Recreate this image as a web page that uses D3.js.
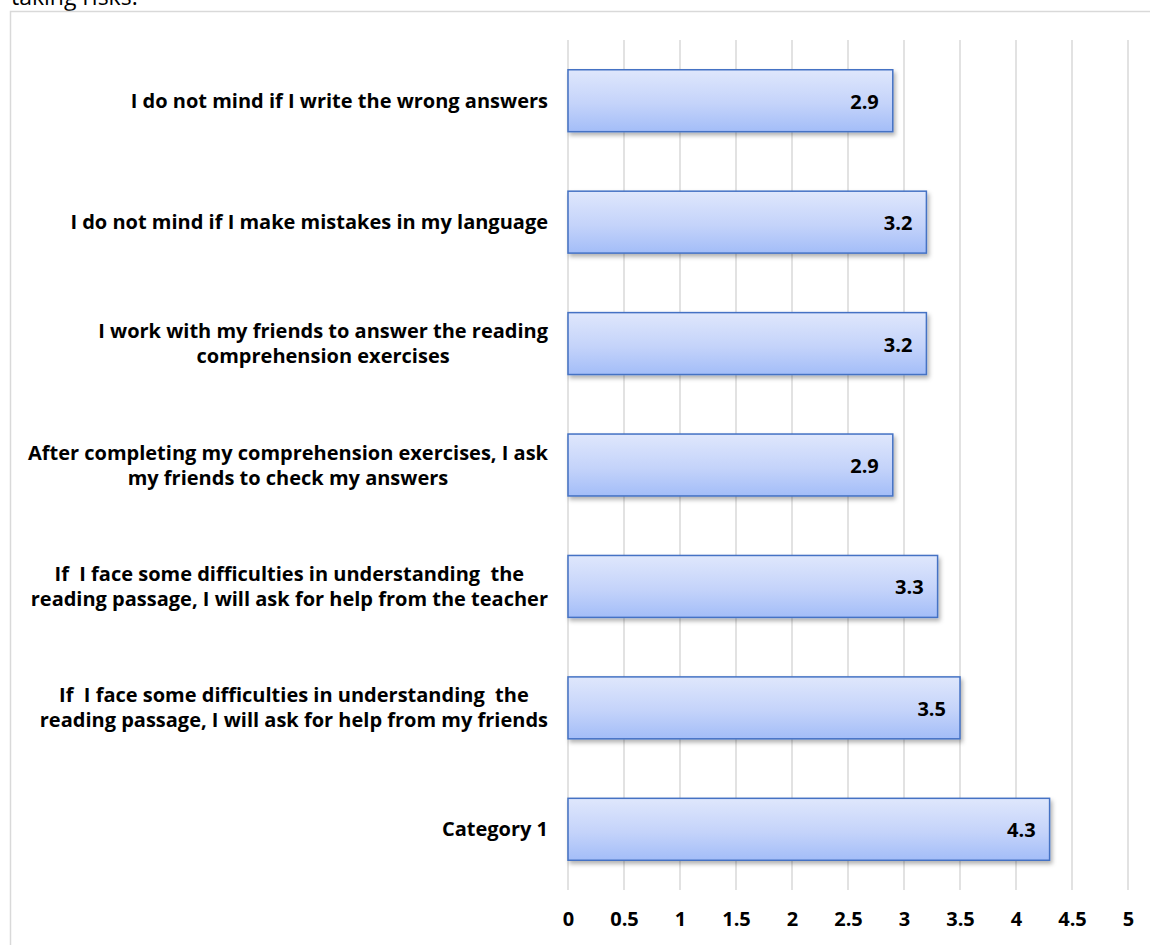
<!DOCTYPE html>
<html>
<head>
<meta charset="utf-8">
<script src="https://cdn.jsdelivr.net/npm/d3@7"></script>
<style>
  body { margin: 0; background: #fff; }
  svg { display: block; }
</style>
</head>
<body>
<div id="chart"></div>
<script>
// data, top to bottom as in the picture
var categories = [
  "I do not mind if I write the wrong answers",
  "I do not mind if I make mistakes in my language",
  "I work with my friends to answer the reading|comprehension exercises",
  "After completing my comprehension exercises, I ask|my friends to check my answers",
  "If  I face some difficulties in understanding  the|reading passage, I will ask for help from the teacher",
  "If  I face some difficulties in understanding  the|reading passage, I will ask for help from my friends",
  "Category 1"
];
var values = [2.9, 3.2, 3.2, 2.9, 3.3, 3.5, 4.3];
var xTicks = [0, 0.5, 1, 1.5, 2, 2.5, 3, 3.5, 4, 4.5, 5];
var titleText = "taking risks.";

var W = 1150, H = 945;
var font = "'Open Sans', 'Liberation Sans', sans-serif";

var svg = d3.select("#chart").append("svg")
  .attr("width", W)
  .attr("height", H);

var defs = svg.append("defs");
var grad = defs.append("linearGradient")
  .attr("id", "barGrad")
  .attr("x1", 0).attr("y1", 0).attr("x2", 0).attr("y2", 1);
grad.append("stop").attr("offset", "0%").attr("stop-color", "#dfe7fc");
grad.append("stop").attr("offset", "55%").attr("stop-color", "#c4d3fa");
grad.append("stop").attr("offset", "100%").attr("stop-color", "#a3bdf8");

var shadow = defs.append("filter").attr("id", "shadow")
  .attr("x", "-5%").attr("y", "-20%").attr("width", "115%").attr("height", "150%");
shadow.append("feDropShadow")
  .attr("dx", 2).attr("dy", 3).attr("stdDeviation", 2)
  .attr("flood-color", "#000").attr("flood-opacity", 0.3);

// cut off title at the very top
svg.append("text")
  .attr("x", 11)
  .attr("y", 5)
  .attr("font-family", font)
  .attr("font-size", "23px")
  .attr("fill", "#000")
  .text(titleText);

// chart frame
svg.append("rect")
  .attr("x", 10.5).attr("y", 11.5)
  .attr("width", W).attr("height", H)
  .attr("fill", "none")
  .attr("stroke", "#d9d9d9")
  .attr("stroke-width", 1.5);

var plotTop = 40, plotBottom = 890;
var x = d3.scaleLinear().domain([0, 5]).range([568, 1128]);
var y = d3.scaleBand().domain(d3.range(categories.length))
  .range([plotTop, plotBottom]).paddingInner(0.49).paddingOuter(0.245);

// gridlines
svg.append("g").selectAll("line")
  .data(xTicks)
  .enter().append("line")
  .attr("x1", function(d) { return x(d); })
  .attr("x2", function(d) { return x(d); })
  .attr("y1", plotTop)
  .attr("y2", plotBottom)
  .attr("stroke", "#d9d9d9")
  .attr("stroke-width", 1.5);

// x axis labels
var xAxis = d3.axisBottom(x).tickValues(xTicks).tickSize(0).tickPadding(0)
  .tickFormat(function(d) { return d; });
var gx = svg.append("g")
  .attr("transform", "translate(0," + 912 + ")")
  .call(xAxis);
gx.select(".domain").remove();
gx.selectAll("text")
  .attr("font-family", font)
  .attr("font-size", "20px")
  .attr("font-weight", "bold")
  .attr("fill", "#000");

// bars
svg.append("g").selectAll("rect")
  .data(values)
  .enter().append("rect")
  .attr("x", x(0))
  .attr("y", function(d, i) { return y(i); })
  .attr("width", function(d) { return x(d) - x(0); })
  .attr("height", y.bandwidth())
  .attr("fill", "url(#barGrad)")
  .attr("stroke", "#4472c4")
  .attr("stroke-width", 1.5)
  .attr("filter", "url(#shadow)");

// value labels
svg.append("g").selectAll("text")
  .data(values)
  .enter().append("text")
  .attr("x", function(d) { return x(d) - 14; })
  .attr("y", function(d, i) { return y(i) + y.bandwidth() / 2 + 8; })
  .attr("text-anchor", "end")
  .attr("font-family", font)
  .attr("font-size", "20px")
  .attr("font-weight", "bold")
  .attr("fill", "#000")
  .text(function(d) { return d.toFixed(1); });

// category labels: block right aligned, lines centred inside block
var labelRight = 548;
var lineH = 25;
var catG = svg.append("g");
categories.forEach(function(c, i) {
  var lines = c.split("|");
  var g = catG.append("g");
  var cy = y(i) + y.bandwidth() / 2;
  var texts = lines.map(function(l, j) {
    return g.append("text")
      .attr("y", cy + (j - (lines.length - 1) / 2) * lineH + 7)
      .attr("text-anchor", "middle")
      .attr("font-family", font)
      .attr("font-size", "20px")
      .attr("font-weight", "bold")
      .attr("fill", "#000")
      .attr("xml:space", "preserve")
      .style("white-space", "pre")
      .text(l);
  });
  var maxW = d3.max(texts, function(t) { return t.node().getComputedTextLength(); });
  texts.forEach(function(t) { t.attr("x", labelRight - maxW / 2); });
});
</script>
</body>
</html>
